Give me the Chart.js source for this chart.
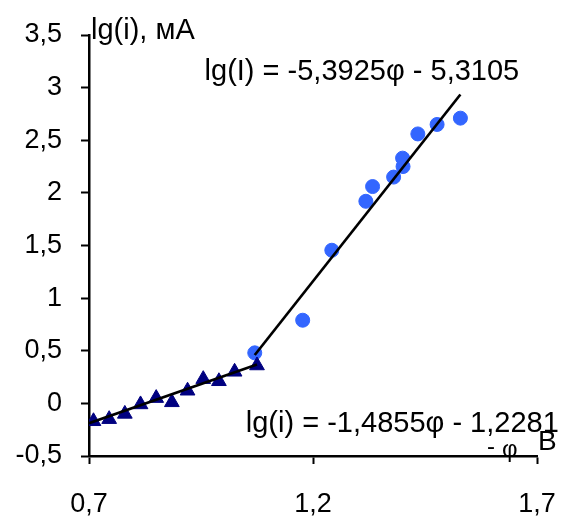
<!DOCTYPE html>
<html lang="ru">
<head>
<meta charset="UTF-8">
<title>lg(i) от -φ</title>
<script src="https://cdn.jsdelivr.net/npm/chart.js"></script>
<style>
  html, body { margin: 0; padding: 0; background: #fff; }
  #wrap { width: 563px; height: 517px; }
</style>
</head>
<body>
<div id="wrap"><canvas id="myChart" width="563" height="517"></canvas></div>
<script>
// -φ, B  (triangles: low-potential branch)
const phiLow = [0.71, 0.745, 0.78, 0.815, 0.85, 0.885, 0.92, 0.955, 0.99, 1.025, 1.075];
const lgLow  = [-0.17, -0.15, -0.10, -0.01, 0.05, 0.01, 0.12, 0.23, 0.21, 0.30, 0.36];

// -φ, B  (circles: high-potential branch)
const phiHigh = [1.07, 1.177, 1.242, 1.318, 1.333, 1.38, 1.401, 1.40, 1.434, 1.477, 1.529];
const lgHigh  = [0.48, 0.79, 1.455, 1.92, 2.06, 2.15, 2.25, 2.33, 2.56, 2.65, 2.71];

// linear fits: lg(i) = k * (-φ) + b
const fitLow  = { k: 1.4855, b: -1.2281, from: 0.70, to: 1.075 };
const fitHigh = { k: 5.3925, b: -5.3105, from: 1.07, to: 1.529 };

const yTicks = [-0.5, 0, 0.5, 1, 1.5, 2, 2.5, 3, 3.5];
const xTicks = [0.7, 1.2, 1.7];

const eqHigh = 'lg(I) = -5,3925φ - 5,3105';
const eqLow  = 'lg(i) = -1,4855φ - 1,2281';

const FONT = "'Liberation Sans', Arial, sans-serif";

function pts(xs, ys) { return xs.map((x, i) => ({ x: x, y: ys[i] })); }
function fitLine(f) {
    return [{ x: f.from, y: f.k * f.from + f.b }, { x: f.to, y: f.k * f.to + f.b }];
}
const comma = v => String(v).replace('.', ',');

const textPlugin = {
    id: 'texts',
    afterDraw(chart) {
        const ctx = chart.ctx;
        const xs = chart.scales.x, ys = chart.scales.y;
        const area = chart.chartArea;
        ctx.save();
        ctx.fillStyle = '#000';
        ctx.textBaseline = 'alphabetic';
        ctx.textAlign = 'left';
        ctx.font = '29px ' + FONT;
        ctx.fillText('lg(i), мА', area.left + 2, area.top + 4);
        ctx.fillText(eqHigh, xs.getPixelForValue(0.958), ys.getPixelForValue(3.07));
        ctx.fillText(eqLow, xs.getPixelForValue(1.05), ys.getPixelForValue(-0.268));
        // axis title "-φ, B", squeezed into the corner by the fit label
        ctx.font = '24px ' + FONT;
        ctx.fillText('-', area.right - 50, area.bottom - 2);
        ctx.fillText('φ', area.right - 35, area.bottom + 1);
        ctx.font = '28px ' + FONT;
        ctx.fillText('B', area.right + 1, area.bottom - 6);
        ctx.restore();
    }
};

const ctx = document.getElementById('myChart').getContext('2d');
new Chart(ctx, {
    data: {
        datasets: [
            {
                type: 'line',
                data: fitLine(fitLow),
                borderColor: '#000',
                borderWidth: 2.7,
                pointRadius: 0,
                fill: false,
                order: 0
            },
            {
                type: 'line',
                data: fitLine(fitHigh),
                borderColor: '#000',
                borderWidth: 2.7,
                pointRadius: 0,
                fill: false,
                order: 0
            },
            {
                type: 'scatter',
                data: pts(phiLow, lgLow),
                pointStyle: 'triangle',
                pointRadius: 8.5,
                backgroundColor: '#000080',
                borderColor: '#000080',
                borderWidth: 1,
                order: 1
            },
            {
                type: 'scatter',
                data: pts(phiHigh, lgHigh),
                pointStyle: 'circle',
                pointRadius: 7,
                backgroundColor: '#3366ff',
                borderColor: '#3366ff',
                borderWidth: 1,
                order: 1
            }
        ]
    },
    options: {
        responsive: false,
        animation: false,
        layout: { padding: { top: 35, right: 26, left: 0, bottom: 0 } },
        plugins: {
            legend: { display: false },
            tooltip: { enabled: false }
        },
        scales: {
            x: {
                type: 'linear',
                min: 0.7,
                max: 1.7,
                afterBuildTicks: s => { s.ticks = xTicks.map(v => ({ value: v })); },
                afterFit: s => { s.height = 61; s.paddingLeft = 0; s.paddingRight = 0; },
                border: { display: true, color: '#000', width: 2.5 },
                grid: { drawOnChartArea: false, drawTicks: true, tickLength: 8, tickColor: '#000', tickWidth: 2 },
                ticks: {
                    color: '#000',
                    font: { family: FONT, size: 27 },
                    padding: 24,
                    maxRotation: 0,
                    callback: v => comma(v)
                }
            },
            y: {
                type: 'linear',
                min: -0.5,
                max: 3.5,
                afterBuildTicks: s => { s.ticks = yTicks.map(v => ({ value: v })); },
                afterFit: s => { s.width = 89; s.paddingTop = 0; s.paddingBottom = 0; },
                border: { display: true, color: '#000', width: 2.5 },
                grid: { drawOnChartArea: false, drawTicks: true, tickLength: 8, tickColor: '#000', tickWidth: 2 },
                ticks: {
                    color: '#000',
                    font: { family: FONT, size: 27 },
                    padding: 19,
                    callback: v => comma(v)
                }
            }
        }
    },
    plugins: [textPlugin]
});
</script>
</body>
</html>
